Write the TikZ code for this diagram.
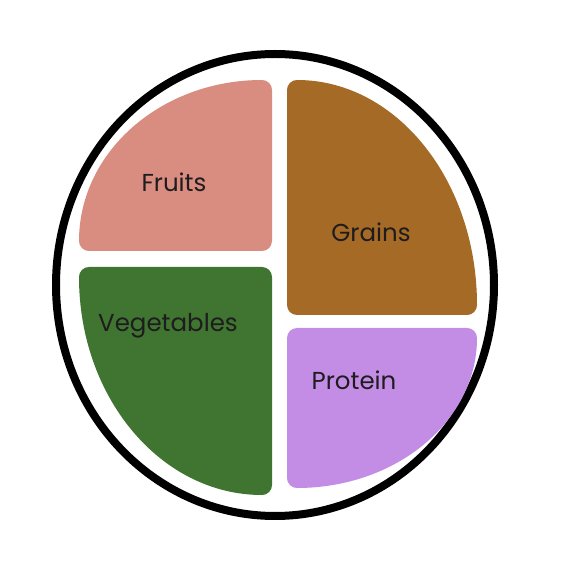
\documentclass[tikz,border=0pt]{standalone}
\usepackage{fontspec}
\setsansfont{Poppins}
\definecolor{fruitcol}{RGB}{217,140,128}
\definecolor{graincol}{RGB}{165,106,37}
\definecolor{vegcol}{RGB}{63,117,48}
\definecolor{protcol}{RGB}{195,141,230}
\definecolor{labelcol}{RGB}{30,28,30}
\tikzset{
  portion/.style={line width=20pt, line join=round},
  foodlabel/.style={anchor=base, inner sep=0pt, text=labelcol,
    font=\sffamily\fontsize{24.5}{28}\selectfont},
}
\begin{document}
\begin{tikzpicture}[x=1pt, y=1pt]
\useasboundingbox (0,0) rectangle (560,565);

%% ---- Piatto ----
\draw[black, line width=8pt] (275,280) ellipse[x radius=219, y radius=231];

%% ---- Porzioni (quarti di ellisse, angoli arrotondati) ----
\filldraw[portion, fruitcol] (262,324) -- (89,324)
    arc[start angle=180, end angle=90, x radius=173, y radius=151] -- cycle;
\filldraw[portion, graincol] (297,260) -- (467,260)
    arc[start angle=0, end angle=90, x radius=170, y radius=215] -- cycle;
\filldraw[portion, vegcol] (262,288) -- (262,80)
    arc[start angle=270, end angle=180, x radius=173, y radius=208] -- cycle;
\filldraw[portion, protcol] (297,227) -- (467,227)
    arc[start angle=0, end angle=-90, x radius=170, y radius=140] -- cycle;

%% ---- Etichette ----
\node[foodlabel] (fruits)     at (174,373) {Fruits};
\node[foodlabel] (grains)     at (371,323) {Grains};
\node[foodlabel] (vegetables) at (168,233) {Vegetables};
\node[foodlabel] (protein)    at (354,175) {Protein};

\end{tikzpicture}
\end{document}
